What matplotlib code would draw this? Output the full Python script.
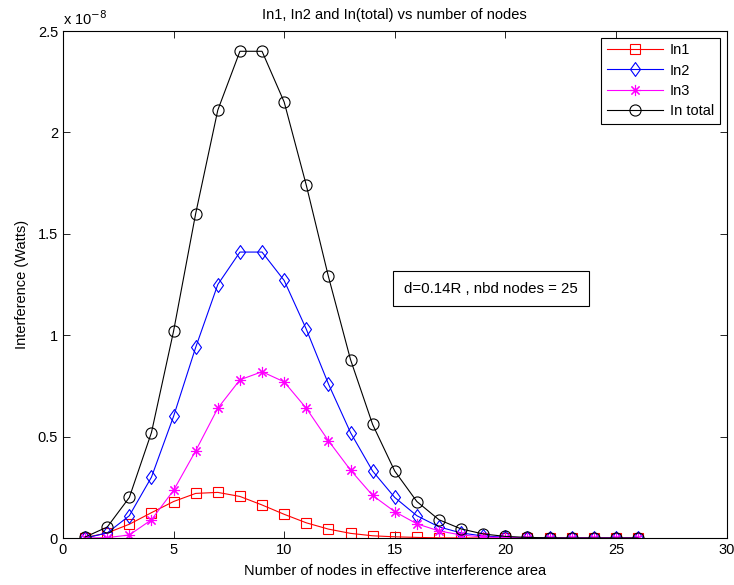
import matplotlib
matplotlib.use("Agg")
import matplotlib.pyplot as plt
from matplotlib.ticker import FuncFormatter, MultipleLocator
from matplotlib.path import Path

plt.rcParams['font.family'] = ['Liberation Sans', 'DejaVu Sans']

nodes = list(range(1, 27))
in1 = [0.002, 0.025, 0.068, 0.125, 0.18, 0.22, 0.225, 0.205, 0.163, 0.117, 0.075, 0.044,
       0.023, 0.011, 0.006, 0.003, 0.001, 0.0005, 0.0002, 0.0001, 0, 0, 0, 0, 0, 0]
in2 = [0.0, 0.025, 0.11, 0.30, 0.60, 0.94, 1.25, 1.41, 1.41, 1.27, 1.03, 0.76,
       0.52, 0.33, 0.20, 0.11, 0.055, 0.025, 0.01, 0.004, 0.001, 0, 0, 0, 0, 0]
in3 = [0.0, 0.002, 0.015, 0.09, 0.235, 0.43, 0.64, 0.78, 0.82, 0.77, 0.64, 0.48,
       0.335, 0.21, 0.13, 0.07, 0.035, 0.015, 0.005, 0.002, 0.001, 0, 0, 0, 0, 0]
intotal = [0.005, 0.054, 0.20, 0.52, 1.02, 1.60, 2.11, 2.40, 2.40, 2.15, 1.74, 1.29,
           0.88, 0.56, 0.33, 0.18, 0.09, 0.045, 0.02, 0.008, 0.003, 0.001, 0, 0, 0, 0]
scale = 1e-8

diamond = Path([(0, 1), (0.72, 0), (0, -1), (-0.72, 0), (0, 1)],
               [Path.MOVETO, Path.LINETO, Path.LINETO, Path.LINETO, Path.CLOSEPOLY])

series = [
    ("In1", in1, "#ff0000", "s", 7),
    ("In2", in2, "#0000ff", diamond, 10),
    ("In3", in3, "#ff00ff", (8, 2, 0), 8),
    ("In total", intotal, "#000000", "o", 8),
]

fig = plt.figure(figsize=(7.34, 5.85), dpi=100)
ax = fig.add_axes([0.0858, 0.0803, 0.904, 0.8667])

for name, vals, col, mk, ms in series:
    ax.plot(nodes, [v * scale for v in vals], color=col, marker=mk, markersize=ms,
            markerfacecolor='none', markeredgecolor=col, linewidth=0.8,
            markeredgewidth=0.8, label=name)

ax.set_xlim(0, 30)
ax.set_ylim(0, 2.5e-8)
ax.xaxis.set_major_locator(MultipleLocator(5))
ax.yaxis.set_major_locator(MultipleLocator(0.5e-8))
ax.yaxis.set_major_formatter(FuncFormatter(lambda v, p: f"{v/scale:g}"))
ax.tick_params(direction='in', top=True, right=True, labelsize=10.5, length=5, width=0.6)
for s in ax.spines.values():
    s.set_linewidth(0.8)

ax.set_xlabel("Number of nodes in effective interference area", fontsize=10.5, labelpad=5)
ax.set_ylabel("Interference (Watts)", fontsize=10.5, labelpad=6)
ax.set_title("In1, In2 and In(total) vs number of nodes", fontsize=10.5, pad=9)
ax.text(0.0, 1.005, r"x 10$^{-8}$", transform=ax.transAxes, fontsize=10.5,
        ha='left', va='bottom')

ax.text(19.35, 1.23e-8, "d=0.14R , nbd nodes = 25", fontsize=10.8, ha='center', va='center',
        bbox=dict(boxstyle='square,pad=0.72', facecolor='white', edgecolor='black', linewidth=0.8))

leg = ax.legend(loc='upper right', fontsize=10.5, fancybox=False, edgecolor='black',
                framealpha=1, borderaxespad=0.45, handlelength=3.8, labelspacing=0.42,
                borderpad=0.4, handletextpad=0.5)
leg.get_frame().set_linewidth(0.8)

fig.savefig("out.png", dpi=100)
